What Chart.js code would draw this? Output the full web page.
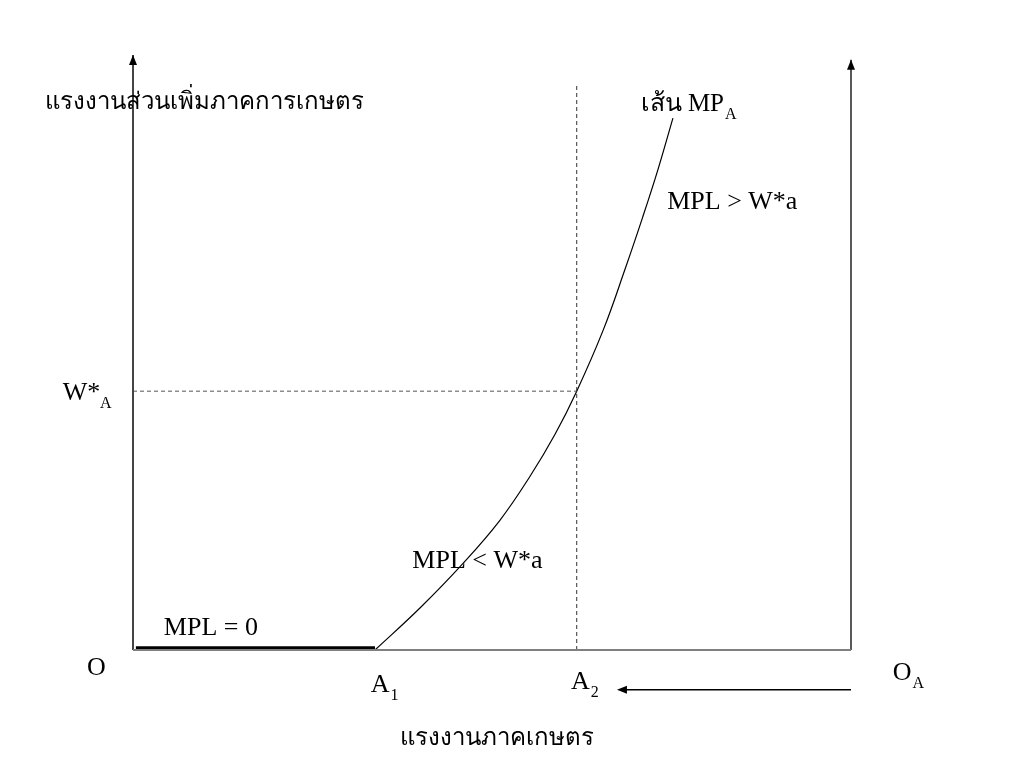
<!DOCTYPE html>
<html>
<head>
<meta charset="utf-8">
<script src="https://cdn.jsdelivr.net/npm/chart.js@4"></script>
<style>
    body { margin: 0; background: #fff; }
</style>
</head>
<body>
<canvas id="labourChart" width="1024" height="768"></canvas>
<script>
// marginal product curve of farm labour (x: labour, y: MP)
const curveX = [33.7, 40.0, 46.0, 51.1, 55.3, 58.8, 61.8, 65.5, 68.5, 71.0, 73.1, 75.2];
const curveY = [0, 7.1, 14.6, 21.8, 29.2, 36.3, 43.5, 53.8, 63.9, 72.8, 80.7, 89.4];

const pointA1 = 33.7;
const pointA2 = 61.8;
const wageA = 43.5;
const dashTop = 95;
const rightAxisTop = 99.2;
const arrowY = -6.7;
const arrowEnd = 67.4;

const yTitle = "แรงงานส่วนเพิ่มภาคการเกษตร";
const xTitle = "แรงงานภาคเกษตร";

const serif = "'Liberation Serif', 'Times New Roman', serif";

function seg(x1, y1, x2, y2) {
    return [{ x: x1, y: y1 }, { x: x2, y: y2 }];
}

// text labels: [text, sub, x, y, size] in data units
const labels = [
    [yTitle, "", -12.3, 90.9, 24],
    ["เส้น MP", "A", 70.7, 90.6, 25],
    ["MPL > W*a", "", 74.4, 74.2, 26],
    ["W*", "", -9.8, 42.0, 26],
    ["MPL < W*a", "", 38.9, 13.8, 26],
    ["MPL = 0", "", 4.3, 2.5, 26],
    ["O", "", -6.4, -4.2, 26],
    ["A", "1", 33.1, -7.0, 26],
    ["A", "2", 61.0, -6.5, 26],
    ["O", "A", 105.8, -5.0, 26],
    [xTitle, "", 37.2, -16.0, 24]
];

const annotate = {
    id: "annotate",
    afterDatasetsDraw(chart) {
        const ctx = chart.ctx;
        const xs = chart.scales.x;
        const ys = chart.scales.y;
        ctx.save();
        ctx.fillStyle = "#000";
        ctx.textBaseline = "alphabetic";
        labels.forEach(([text, sub, x, y, size]) => {
            const px = xs.getPixelForValue(x);
            const py = ys.getPixelForValue(y);
            ctx.font = size + "px " + serif;
            ctx.fillText(text, px, py);
            if (sub) {
                const w = ctx.measureText(text).width;
                ctx.font = "16px " + serif;
                ctx.fillText(sub, px + w + 1, py + 8);
            }
        });
        // subscript A under W*
        ctx.font = "16px " + serif;
        ctx.fillText("A", xs.getPixelForValue(-4.6), ys.getPixelForValue(40.6));

        // arrowheads
        function head(x, y, dx, dy) {
            const px = xs.getPixelForValue(x);
            const py = ys.getPixelForValue(y);
            ctx.beginPath();
            ctx.moveTo(px, py);
            ctx.lineTo(px - dx * 10 + dy * 4, py - dy * 10 + dx * 4);
            ctx.lineTo(px - dx * 10 - dy * 4, py - dy * 10 - dx * 4);
            ctx.closePath();
            ctx.fill();
        }
        head(0, 100, 0, -1);
        head(100, rightAxisTop, 0, -1);
        head(arrowEnd, arrowY, -1, 0);
        ctx.restore();
    }
};

function line(data, color, width, dash) {
    return {
        type: "line",
        data: data,
        borderColor: color,
        borderWidth: width,
        borderDash: dash || [],
        pointRadius: 0,
        fill: false,
        clip: false,
        tension: 0
    };
}

new Chart(document.getElementById("labourChart").getContext("2d"), {
    type: "scatter",
    data: {
        datasets: [
            line(seg(0, 0, 100, 0), "#808080", 2),
            line(seg(0, 0, 0, 100), "#444", 2),
            line(seg(100, 0, 100, rightAxisTop), "#222", 1.5),
            line(seg(pointA2, 0, pointA2, dashTop), "#333", 1, [4, 3]),
            line(seg(0, wageA, pointA2, wageA), "#555", 1, [4, 3]),
            line(seg(0.4, 0.3, pointA1, 0.3), "#000", 4),
            line(seg(100, arrowY, arrowEnd + 1, arrowY), "#000", 1.5),
            {
                type: "line",
                data: curveX.map((x, i) => ({ x: x, y: curveY[i] })),
                borderColor: "#000",
                borderWidth: 1.2,
                pointRadius: 0,
                fill: false,
                clip: false,
                tension: 0.4
            }
        ]
    },
    options: {
        responsive: false,
        animation: false,
        layout: { padding: { left: 133, right: 173, top: 55, bottom: 118 } },
        plugins: { legend: { display: false }, tooltip: { enabled: false } },
        scales: {
            x: { type: "linear", min: 0, max: 100, display: false },
            y: { type: "linear", min: 0, max: 100, display: false }
        }
    },
    plugins: [annotate]
});
</script>
</body>
</html>
